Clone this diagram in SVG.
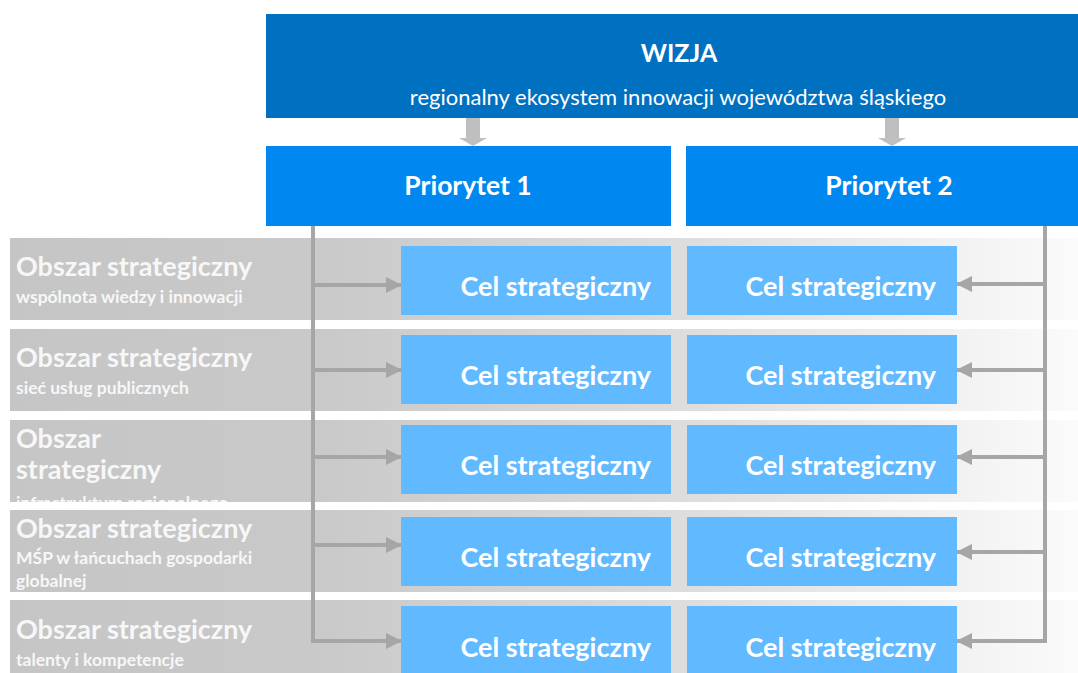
<svg xmlns="http://www.w3.org/2000/svg" width="1078" height="673" viewBox="0 0 1078 673">
<defs>
<linearGradient id="band" x1="0" y1="0" x2="1078" y2="0" gradientUnits="userSpaceOnUse">
<stop offset="0" stop-color="#c5c5c5"/>
<stop offset="0.3" stop-color="#c9c9c9"/>
<stop offset="0.65" stop-color="#dedede"/>
<stop offset="1" stop-color="#fbfbfb"/>
</linearGradient>
<marker id="ah" viewBox="0 0 16 16" refX="15" refY="8" markerWidth="16" markerHeight="16" markerUnits="userSpaceOnUse" orient="auto">
<path d="M0,0 L16,8 L0,16 Z" fill="#a6a6a6"/>
</marker>
<clipPath id="clip3"><rect x="10" y="420" width="1068" height="82"/></clipPath>
</defs>
<style>
text{font-family:Lato,"Liberation Sans",sans-serif;fill:#fff}
.b{font-weight:bold}
.cel{font-weight:bold;font-size:27px;text-anchor:end}
.obt{font-weight:bold;font-size:27px;fill:#f7f7f7}
.obs{font-weight:bold;font-size:17.5px;fill:#f7f7f7}
.celbox{fill:#61baff}
.band{fill:url(#band)}
.conn{stroke:#a6a6a6;stroke-width:4;fill:none}
</style>
<rect width="1078" height="673" fill="#fff"/>

<g id="bands">
<rect class="band" x="10" y="238" width="1068" height="82"/>
<rect class="band" x="10" y="329" width="1068" height="82"/>
<rect class="band" x="10" y="420" width="1068" height="82"/>
<rect class="band" x="10" y="510" width="1068" height="82"/>
<rect class="band" x="10" y="600" width="1068" height="73"/>
</g>

<g id="obszar1">
<text class="obt" x="16" y="276">Obszar strategiczny</text>
<text class="obs" x="16" y="303">wspólnota wiedzy i innowacji</text>
</g>
<g id="obszar2">
<text class="obt" x="16" y="367">Obszar strategiczny</text>
<text class="obs" x="16" y="394">sieć usług publicznych</text>
</g>
<g id="obszar3" clip-path="url(#clip3)">
<text class="obt" x="16" y="448">Obszar</text>
<text class="obt" x="16" y="479">strategiczny</text>
<text class="obs" x="16" y="509">infrastruktura regionalnego</text>
</g>
<g id="obszar4">
<text class="obt" x="16" y="538">Obszar strategiczny</text>
<text class="obs" x="16" y="564">MŚP w łańcuchach gospodarki</text>
<text class="obs" x="16" y="587">globalnej</text>
</g>
<g id="obszar5">
<text class="obt" x="16" y="639">Obszar strategiczny</text>
<text class="obs" x="16" y="666">talenty i kompetencje</text>
</g>

<g id="wizja">
<rect x="266" y="14" width="812" height="104" fill="#0070c0"/>
<text class="b" x="679" y="62" font-size="25" text-anchor="middle">WIZJA</text>
<text x="678" y="105" font-size="22" text-anchor="middle">regionalny ekosystem innowacji województwa śląskiego</text>
</g>

<g id="priorytet1">
<rect x="266" y="146" width="405" height="80" fill="#0088f0"/>
<text class="b" x="468" y="195" font-size="26.5" text-anchor="middle">Priorytet 1</text>
</g>
<g id="priorytet2">
<rect x="686" y="146" width="392" height="80" fill="#0088f0"/>
<text class="b" x="889" y="195" font-size="26.5" text-anchor="middle">Priorytet 2</text>
</g>

<g id="cel1a"><rect class="celbox" x="401" y="246" width="270" height="69"/><text class="cel" x="651" y="296">Cel strategiczny</text></g>
<g id="cel1b"><rect class="celbox" x="687" y="246" width="270" height="69"/><text class="cel" x="936" y="296">Cel strategiczny</text></g>
<g id="cel2a"><rect class="celbox" x="401" y="335" width="270" height="69"/><text class="cel" x="651" y="385">Cel strategiczny</text></g>
<g id="cel2b"><rect class="celbox" x="687" y="335" width="270" height="69"/><text class="cel" x="936" y="385">Cel strategiczny</text></g>
<g id="cel3a"><rect class="celbox" x="401" y="425" width="270" height="69"/><text class="cel" x="651" y="475">Cel strategiczny</text></g>
<g id="cel3b"><rect class="celbox" x="687" y="425" width="270" height="69"/><text class="cel" x="936" y="475">Cel strategiczny</text></g>
<g id="cel4a"><rect class="celbox" x="401" y="517" width="270" height="69"/><text class="cel" x="651" y="567">Cel strategiczny</text></g>
<g id="cel4b"><rect class="celbox" x="687" y="517" width="270" height="69"/><text class="cel" x="936" y="567">Cel strategiczny</text></g>
<g id="cel5a"><rect class="celbox" x="401" y="606" width="270" height="67"/><text class="cel" x="651" y="657">Cel strategiczny</text></g>
<g id="cel5b"><rect class="celbox" x="687" y="606" width="270" height="67"/><text class="cel" x="936" y="657">Cel strategiczny</text></g>

<g id="connectors">
<path d="M466,118 H480 V138 H487 L473,146 L459,138 H466 Z" fill="#bfbfbf"/>
<path d="M885,118 H899 V138 H906 L892,146 L878,138 H885 Z" fill="#bfbfbf"/>
<path class="conn" d="M313,226 V641"/>
<path class="conn" d="M311,641 H401" marker-end="url(#ah)"/>
<path class="conn" d="M313,285 H401" marker-end="url(#ah)"/>
<path class="conn" d="M313,370 H401" marker-end="url(#ah)"/>
<path class="conn" d="M313,457 H401" marker-end="url(#ah)"/>
<path class="conn" d="M313,545 H401" marker-end="url(#ah)"/>
<path class="conn" d="M1045,226 V641"/>
<path class="conn" d="M1047,641 H957" marker-end="url(#ah)"/>
<path class="conn" d="M1045,284 H957" marker-end="url(#ah)"/>
<path class="conn" d="M1045,370 H957" marker-end="url(#ah)"/>
<path class="conn" d="M1045,457 H957" marker-end="url(#ah)"/>
<path class="conn" d="M1045,552 H957" marker-end="url(#ah)"/>
</g>
</svg>
